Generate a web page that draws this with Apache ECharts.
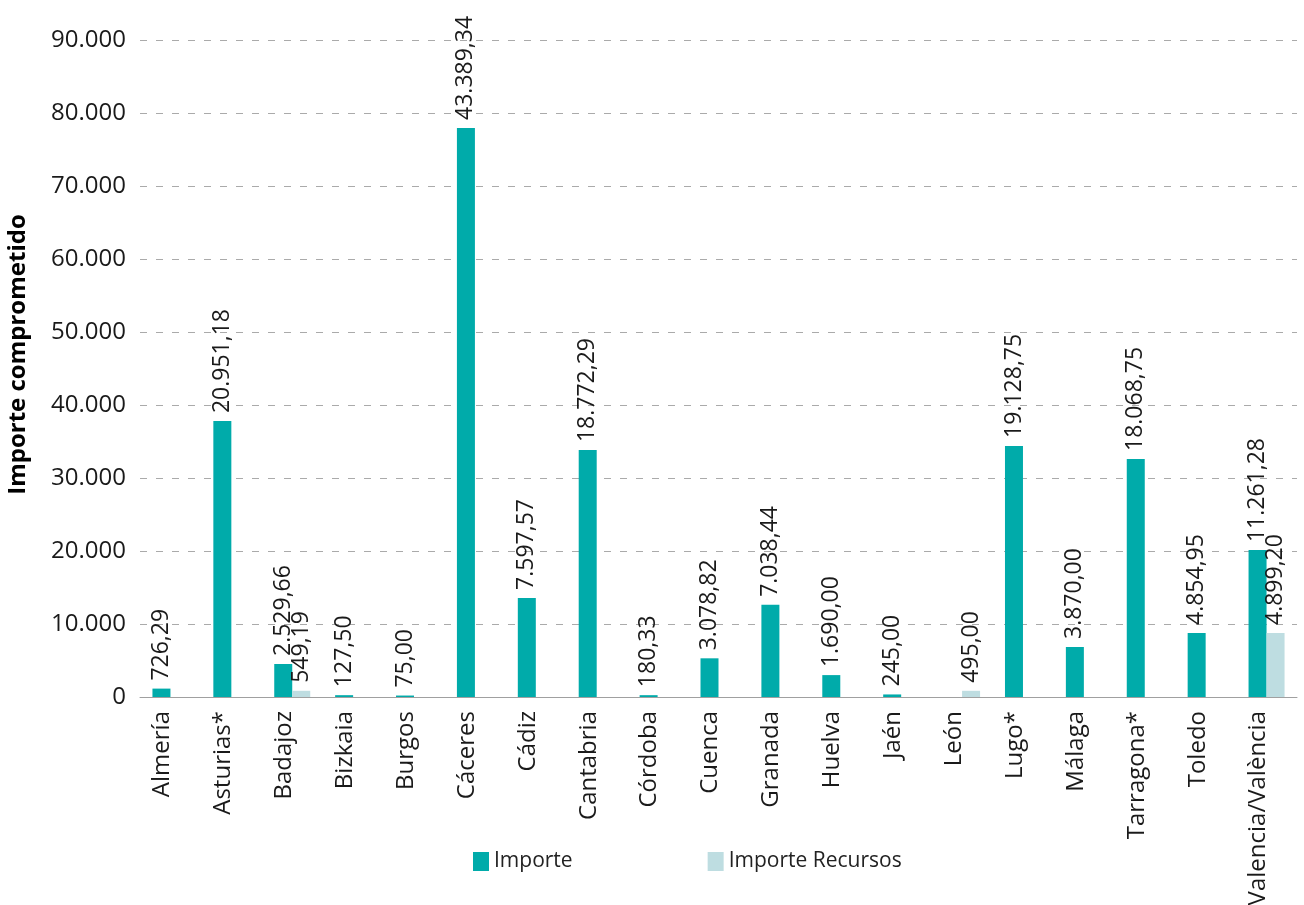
<!DOCTYPE html>
<html><head><meta charset="utf-8">
<script src="https://cdn.jsdelivr.net/npm/echarts@6/dist/echarts.min.js"></script>
<style>html,body{margin:0;padding:0;background:#fff}#c{width:1304px;height:905px}</style>
</head><body><div id="c"></div>
<script>
const categories = ['Almería','Asturias*','Badajoz','Bizkaia','Burgos','Cáceres','Cádiz','Cantabria','Córdoba','Cuenca','Granada','Huelva','Jaén','León','Lugo*','Málaga','Tarragona*','Toledo','Valencia/València'];
// bar heights
const importeBars  = [1150, 37800, 4520, 250, 200, 77950, 13570, 33830, 250, 5300, 12620, 3000, 350, null, 34400, 6850, 32600, 8770, 20130];
const recursosBars = [null, null, 850, null, null, null, null, null, null, null, null, null, null, 850, null, null, null, null, 8770];
// printed value labels
const importeLabels  = [726.29, 20951.18, 2529.66, 127.50, 75.00, 43389.34, 7597.57, 18772.29, 180.33, 3078.82, 7038.44, 1690.00, 245.00, null, 19128.75, 3870.00, 18068.75, 4854.95, 11261.28];
const recursosLabels = [null, null, 549.19, null, null, null, null, null, null, null, null, null, null, 495.00, null, null, null, null, 4899.20];
const seriesNames = ['Importe', 'Importe Recursos'];
const yAxisTitle = 'Importe comprometido';
const yMin = 0, yMax = 90000, yStep = 10000;

function fmt(v, dec) {
  const s = v.toFixed(dec);
  let [i, d] = s.split('.');
  i = i.replace(/\B(?=(\d{3})+(?!\d))/g, '.');
  return d ? i + ',' + d : i;
}
const FONT = "'Open Sans', 'Noto Sans', sans-serif";
const chart = echarts.init(document.getElementById('c'), null, {renderer: 'canvas'});
function lbl(arr) {
  return {
    show: true, position: 'top', distance: 8, rotate: 90, align: 'left', verticalAlign: 'middle',
    fontFamily: FONT, fontSize: 23, color: '#1a1a1a',
    formatter: p => arr[p.dataIndex] == null ? '' : fmt(arr[p.dataIndex], 2)
  };
}
chart.setOption({
  animation: false,
  backgroundColor: '#fff',
  grid: {left: 140, right: 7, top: 40, bottom: 208, containLabel: false, outerBoundsMode: 'none'},
  legend: {
    left: 473, top: 851, padding: 0, itemWidth: 16, itemHeight: 19, itemGap: 135, icon: 'rect',
    textStyle: {fontFamily: FONT, fontSize: 21, color: '#222'},
    data: seriesNames
  },
  xAxis: {
    type: 'category', data: categories,
    axisLine: {lineStyle: {color: '#a0a0a0', width: 1}},
    axisTick: {show: false},
    axisLabel: {rotate: 90, interval: 0, margin: 14, fontFamily: FONT, fontSize: 24, color: '#1a1a1a',
                verticalAlign: 'bottom', lineHeight: 16}
  },
  yAxis: {
    type: 'value', min: yMin, max: yMax, interval: yStep,
    name: yAxisTitle, nameLocation: 'middle', nameGap: 110, nameRotate: 90,
    nameTextStyle: {fontFamily: FONT, fontSize: 24, fontWeight: 'bold', color: '#000', padding: [0, 0, 0, 28]},
    axisLine: {show: false}, axisTick: {show: false},
    axisLabel: {margin: 14, fontFamily: FONT, fontSize: 24, color: '#1a1a1a', formatter: v => fmt(v, 0)},
    splitLine: {lineStyle: {color: '#aaaaaa', type: [7, 9], width: 1}}
  },
  series: [
    {name: seriesNames[0], type: 'bar', data: importeBars, barWidth: 18, barGap: '0%',
     itemStyle: {color: '#00ABAA'}, label: lbl(importeLabels)},
    {name: seriesNames[1], type: 'bar', data: recursosBars, barWidth: 18, barGap: '0%',
     itemStyle: {color: '#BEDDE1'}, label: lbl(recursosLabels)}
  ]
});
</script></body></html>
